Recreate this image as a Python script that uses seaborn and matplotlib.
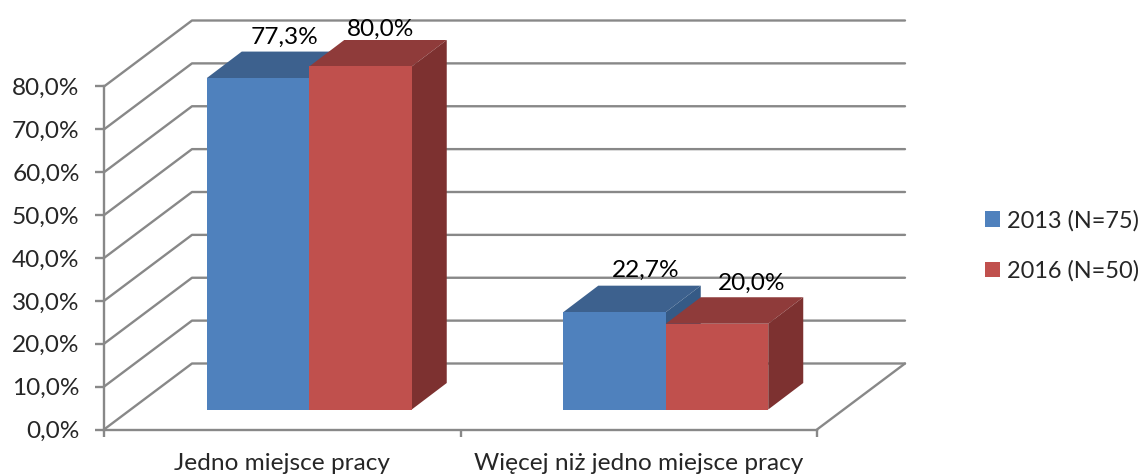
import matplotlib

matplotlib.use("Agg")
import matplotlib.pyplot as plt
import pandas as pd
import seaborn as sns
from matplotlib.patches import Polygon
from matplotlib.transforms import Affine2D

categories = ["Jedno miejsce pracy", "Więcej niż jedno miejsce pracy"]
series_names = ["2013 (N=75)", "2016 (N=50)"]
values_2013 = [77.3, 22.7]
values_2016 = [80.0, 20.0]
y_ticks = [0, 10, 20, 30, 40, 50, 60, 70, 80]

FACE = {series_names[0]: "#4f81bd", series_names[1]: "#c0504d"}
TOP = {series_names[0]: "#3d618e", series_names[1]: "#8f3b3a"}
SIDE = {series_names[0]: "#355a86", series_names[1]: "#7d3130"}
GRID = "#888888"
FONT = 17.6

# depth of the fake 3d box, in pixels
WALL = (88, 66)
BAR_SHIFT = (27, 20)
BAR_DEPTH = (35, 26.5)
# label offsets from the front top of each bar, in pixels (picked by eye)
LABEL_OFFSETS = {
    series_names[0]: [(26, 30), (31, 31)],
    series_names[1]: [(20, 27), (35, 30)],
}

sns.set_style("white")
plt.rcParams["font.family"] = ["Lato", "DejaVu Sans"]

df = pd.DataFrame(
    {
        "category": categories * 2,
        "series": [series_names[0]] * 2 + [series_names[1]] * 2,
        "value": values_2013 + values_2016,
    }
)

fig = plt.figure(figsize=(11.42, 4.76), dpi=100)
ax = fig.add_axes([104 / 1142, 1 - 429.5 / 476, 713 / 1142, 343 / 476])

sns.barplot(
    data=df,
    x="category",
    y="value",
    hue="series",
    hue_order=series_names,
    palette=FACE,
    saturation=1,
    width=0.575,
    gap=0,
    legend=False,
    ax=ax,
)
ax.set_xlim(-0.5, 1.5)
ax.set_ylim(0, 80)


def shifted(dx, dy):
    return ax.transData + Affine2D().translate(dx, dy)


# back wall and left wall gridlines, floor edge on the right
wall_tr = shifted(*WALL)
for tick in y_ticks:
    front = ax.transData.transform((-0.5, tick))
    back = wall_tr.transform((-0.5, tick))
    end = wall_tr.transform((1.5, tick))
    ax.plot(
        [front[0], back[0], end[0]],
        [front[1], back[1], end[1]],
        color=GRID,
        lw=1.7,
        transform=None,
        clip_on=False,
        zorder=1,
    )
corner = ax.transData.transform((1.5, 0))
far = wall_tr.transform((1.5, 0))
ax.plot(
    [corner[0], far[0]],
    [corner[1], far[1]],
    color=GRID,
    lw=1.7,
    transform=None,
    clip_on=False,
    zorder=1,
)

# bars: front from seaborn, top and side polygons derived from it
bar_tr = shifted(*BAR_SHIFT)
z = 3
for container, name in zip(ax.containers, series_names):
    for i, bar in enumerate(container.patches):
        x0, x1 = bar.get_x(), bar.get_x() + bar.get_width()
        h = bar.get_height()
        bar.set_transform(bar_tr)
        bar.set_clip_on(False)
        bar.set_linewidth(0)
        bar.set_zorder(z + 1)
        p_a = bar_tr.transform((x0, h))
        p_b = bar_tr.transform((x1, h))
        p_c = bar_tr.transform((x1, 0))
        dx, dy = BAR_DEPTH
        ax.add_patch(
            Polygon(
                [p_a, p_b, p_b + (dx, dy), p_a + (dx, dy)],
                closed=True,
                fc=TOP[name],
                ec="none",
                transform=None,
                clip_on=False,
                zorder=z,
            )
        )
        ax.add_patch(
            Polygon(
                [p_b, p_b + (dx, dy), p_c + (dx, dy), p_c],
                closed=True,
                fc=SIDE[name],
                ec="none",
                transform=None,
                clip_on=False,
                zorder=z,
            )
        )
        ax.annotate(
            f"{h:.1f}%".replace(".", ","),
            xy=((x0 + x1) / 2, h),
            xycoords=bar_tr,
            xytext=LABEL_OFFSETS[name][i],
            textcoords="offset pixels",
            ha="center",
            va="bottom",
            fontsize=FONT,
            color="black",
            zorder=10,
            annotation_clip=False,
        )
    z += 2

for side in ["top", "right"]:
    ax.spines[side].set_visible(False)
for side in ["left", "bottom"]:
    ax.spines[side].set_color(GRID)
    ax.spines[side].set_linewidth(1.7)

ax.set_yticks(y_ticks)
ax.set_yticklabels([f"{t:.1f}%".replace(".", ",") for t in y_ticks], fontsize=FONT)
ax.tick_params(axis="y", left=True, length=6.5, width=1.7, color=GRID, pad=11)
ax.set_xticks([0, 1])
ax.set_xticklabels(categories, fontsize=FONT)
ax.set_xticks([-0.5, 0.5, 1.5], minor=True)
ax.tick_params(axis="x", which="major", length=0, pad=17)
ax.tick_params(axis="x", which="minor", bottom=True, length=5, width=1.7, color=GRID)
ax.set_xlabel("")
ax.set_ylabel("")

handles = [c.patches[0] for c in ax.containers]
fig.legend(
    handles,
    series_names,
    loc="upper left",
    bbox_to_anchor=(978 / 1142, 1 - 203 / 476),
    frameon=False,
    fontsize=16.9,
    handlelength=0.65,
    handleheight=0.65,
    handletextpad=0.3,
    labelspacing=1.22,
    borderpad=0.3,
    borderaxespad=0,
)

fig.savefig("out.png", dpi=100)
